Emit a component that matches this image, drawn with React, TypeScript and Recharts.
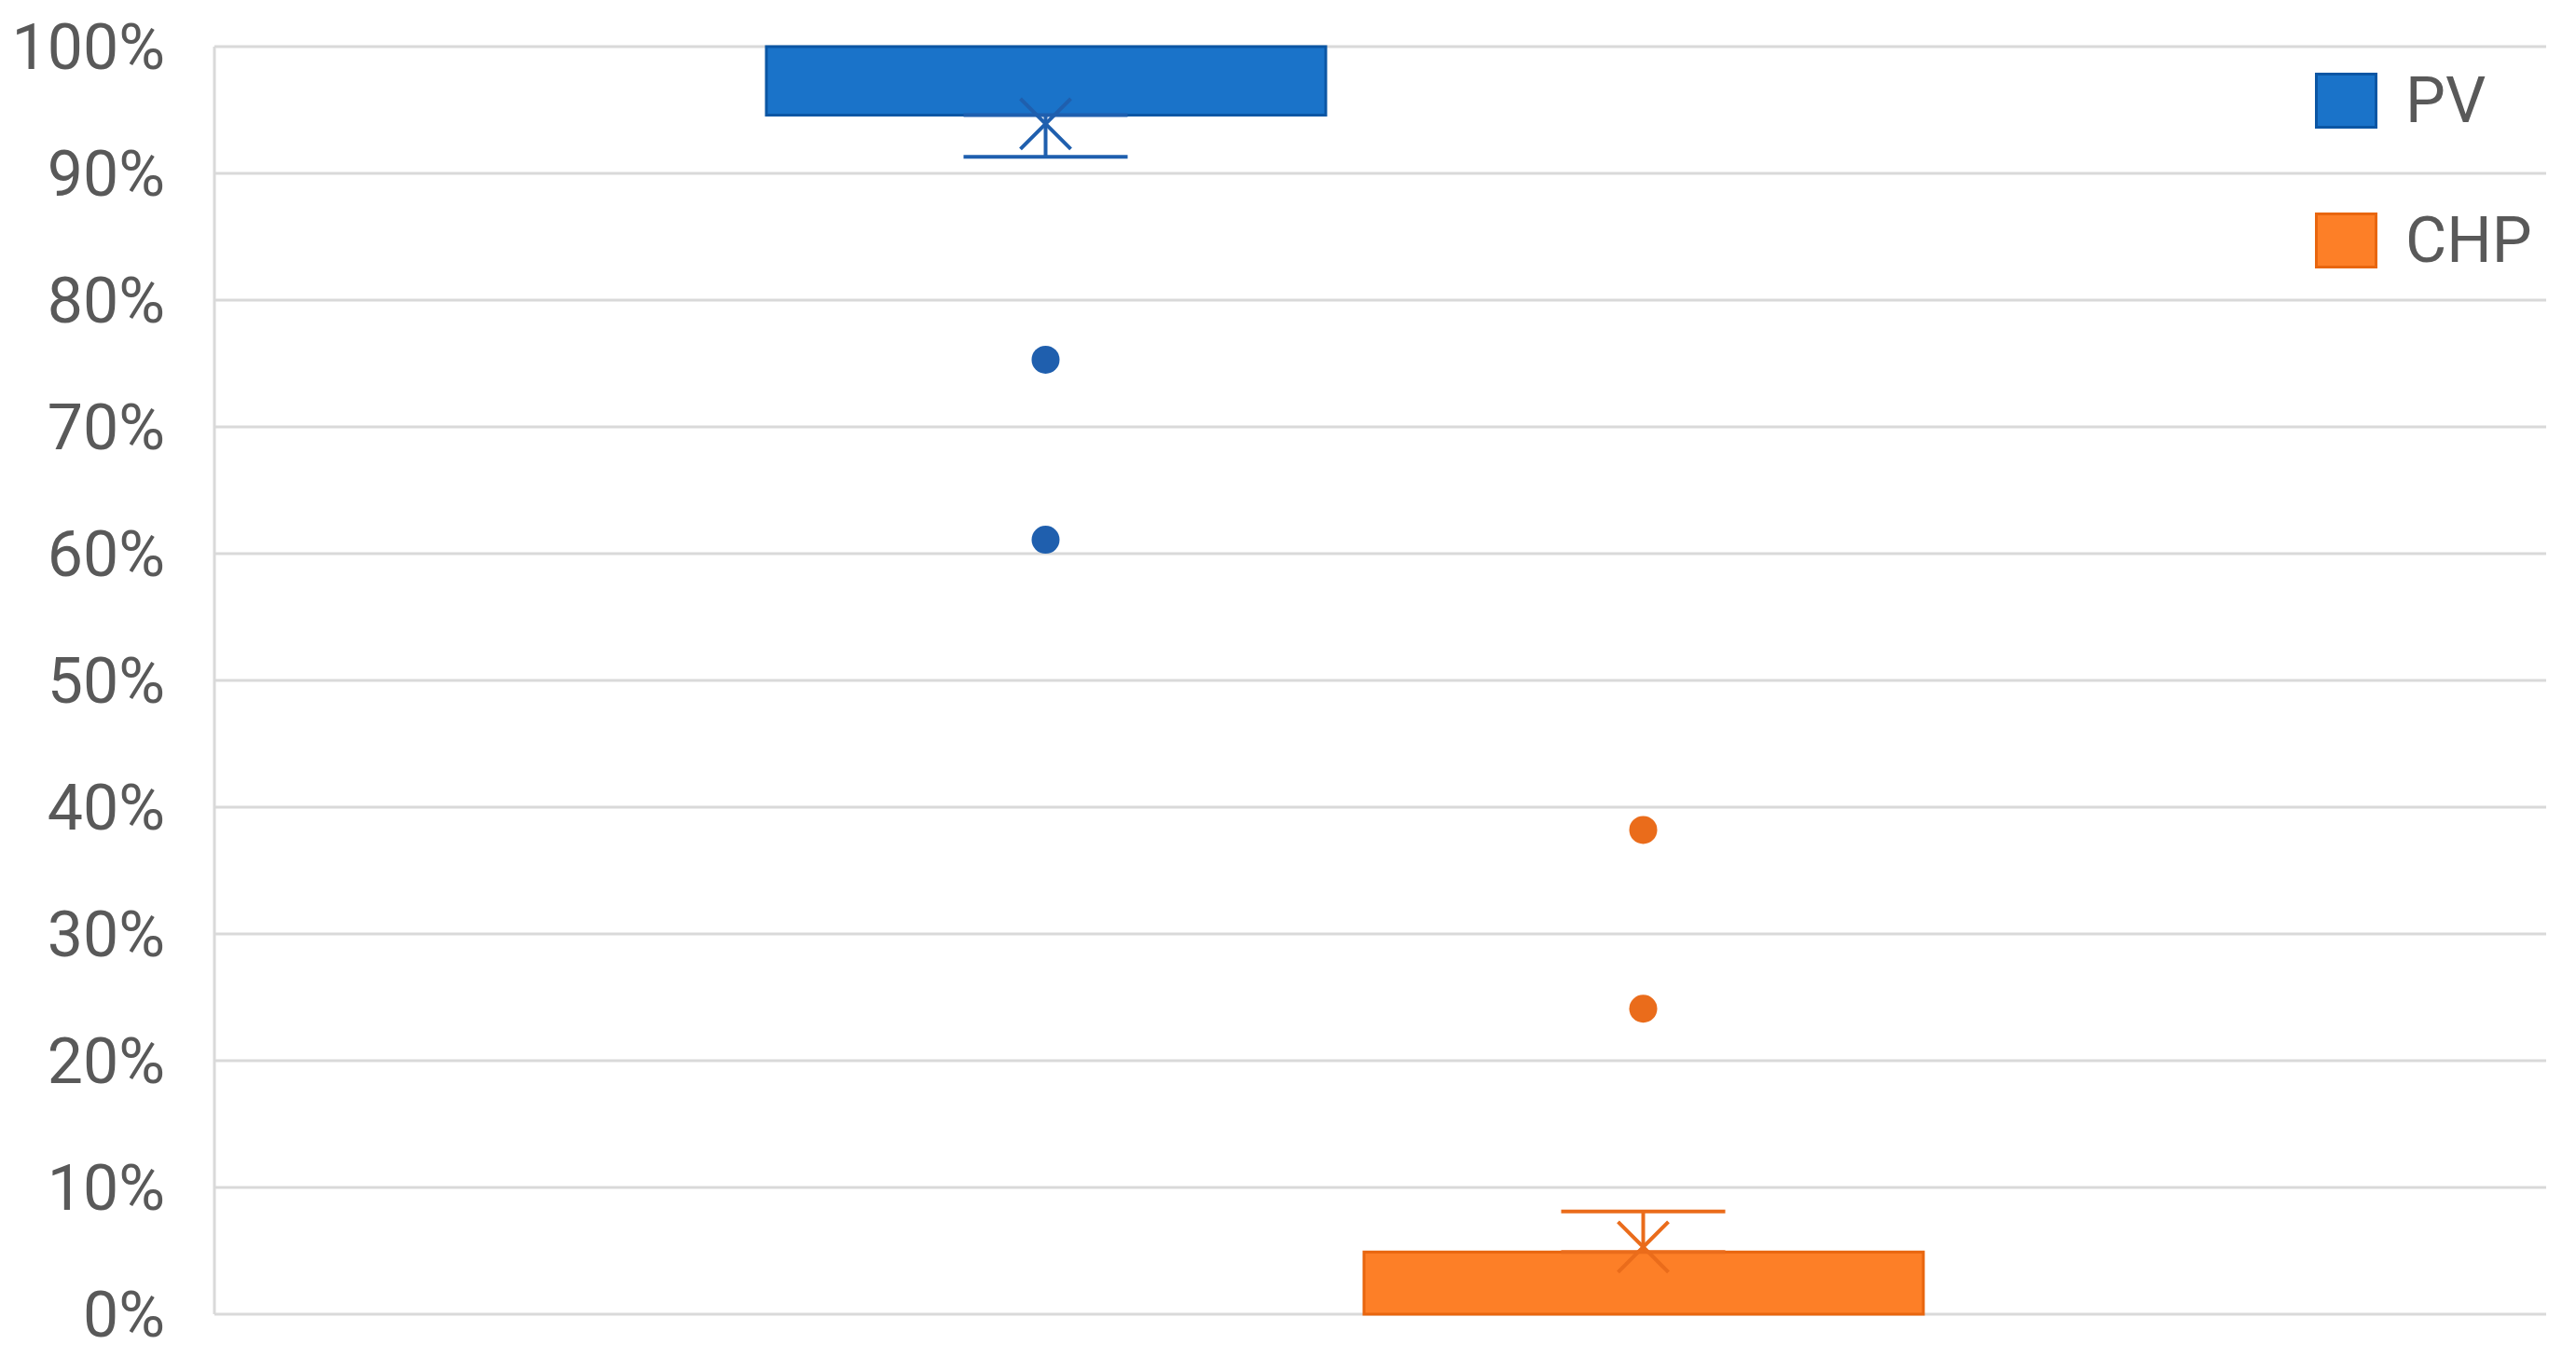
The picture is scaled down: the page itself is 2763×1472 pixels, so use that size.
import {
  Bar,
  CartesianGrid,
  Cell,
  ComposedChart,
  ErrorBar,
  Scatter,
  XAxis,
  YAxis,
} from "recharts";

const categories = ["PV", "CHP"];
const boxLow = [94.6, 0];
const boxHigh = [100, 4.9];
const whiskerMin = [91.3, 0];
const whiskerMax = [100, 8.1];
const means = [93.9, 5.3];
const outliers = [
  [75.3, 61.1],
  [38.2, 24.1],
];
const yTicks = [0, 10, 20, 30, 40, 50, 60, 70, 80, 90, 100];

const palette = [
  { fill: "#1a73c9", stroke: "#0b56a4", mark: "#1f5fae" },
  { fill: "#fd7f27", stroke: "#e8660f", mark: "#ea6c1b" },
];

const WIDTH = 2763;
const HEIGHT = 1472;
const TEXT = "#595959";
const GRID = "#d9d9d9";

const boxData = categories.map((name, i) => ({ name, box: [boxLow[i], boxHigh[i]] }));

function whiskerPoints(i: number) {
  const name = categories[i];
  const pts: { name: string; v: number; err: [number, number] }[] = [];
  if (whiskerMin[i] < boxLow[i]) {
    pts.push({ name, v: boxLow[i], err: [boxLow[i] - whiskerMin[i], 0] });
  }
  if (whiskerMax[i] > boxHigh[i]) {
    pts.push({ name, v: boxHigh[i], err: [0, whiskerMax[i] - boxHigh[i]] });
  }
  return pts;
}

const meanMark = (color: string) => (props: any) => {
  const { cx, cy } = props;
  const s = 27;
  return (
    <path
      d={`M${cx - s},${cy - s}L${cx + s},${cy + s}M${cx + s},${cy - s}L${cx - s},${cy + s}`}
      stroke={color}
      strokeWidth={4}
      fill="none"
    />
  );
};

const dotMark = (color: string) => (props: any) => (
  <circle cx={props.cx} cy={props.cy} r={15} fill={color} />
);

const noMark = () => <g />;

export default function App() {
  return (
    <div
      style={{
        position: "absolute",
        left: 0,
        top: 0,
        width: WIDTH,
        height: HEIGHT,
        background: "#fff",
        fontFamily: "Roboto, sans-serif",
      }}
    >
      <ComposedChart
        width={WIDTH}
        height={HEIGHT}
        data={boxData}
        margin={{ top: 50, right: 32, bottom: 62, left: 0 }}
      >
        <CartesianGrid vertical={false} stroke={GRID} strokeWidth={3} />
        <XAxis
          dataKey="name"
          type="category"
          allowDuplicatedCategory={false}
          hide
          padding={{ left: 571, right: 648 }}
        />
        <YAxis
          type="number"
          domain={[0, 100]}
          ticks={yTicks}
          interval={0}
          width={230}
          tickFormatter={(v: number) => `${v}%`}
          tick={{ fill: TEXT, fontSize: 68, fontFamily: "Roboto" }}
          tickLine={false}
          tickSize={8}
          tickMargin={45}
          axisLine={{ stroke: GRID, strokeWidth: 3 }}
        />
        <Bar dataKey="box" barSize={600} isAnimationActive={false}>
          {boxData.map((d, i) => (
            <Cell key={d.name} fill={palette[i].fill} stroke={palette[i].stroke} strokeWidth={3} />
          ))}
        </Bar>
        {categories.map((name, i) => (
          <Scatter
            key={`w-${name}`}
            data={whiskerPoints(i)}
            dataKey="v"
            shape={noMark}
            isAnimationActive={false}
          >
            <ErrorBar
              dataKey="err"
              direction="y"
              width={88}
              stroke={palette[i].mark}
              strokeWidth={4}
              isAnimationActive={false}
            />
          </Scatter>
        ))}
        {categories.map((name, i) => (
          <Scatter
            key={`m-${name}`}
            data={[{ name, v: means[i] }]}
            dataKey="v"
            shape={meanMark(palette[i].mark)}
            isAnimationActive={false}
          />
        ))}
        {categories.map((name, i) => (
          <Scatter
            key={`o-${name}`}
            data={outliers[i].map((v) => ({ name, v }))}
            dataKey="v"
            shape={dotMark(palette[i].mark)}
            isAnimationActive={false}
          />
        ))}
      </ComposedChart>
      <div style={{ position: "absolute", left: 2483, top: 78 }}>
        {categories.map((name, i) => (
          <div
            key={name}
            style={{ display: "flex", alignItems: "center", height: 60, marginBottom: 90 }}
          >
            <div
              style={{
                width: 61,
                height: 54,
                background: palette[i].fill,
                border: `3px solid ${palette[i].stroke}`,
                marginRight: 30,
              }}
            />
            <span style={{ fontSize: 68, color: TEXT, lineHeight: "60px" }}>{name}</span>
          </div>
        ))}
      </div>
    </div>
  );
}
